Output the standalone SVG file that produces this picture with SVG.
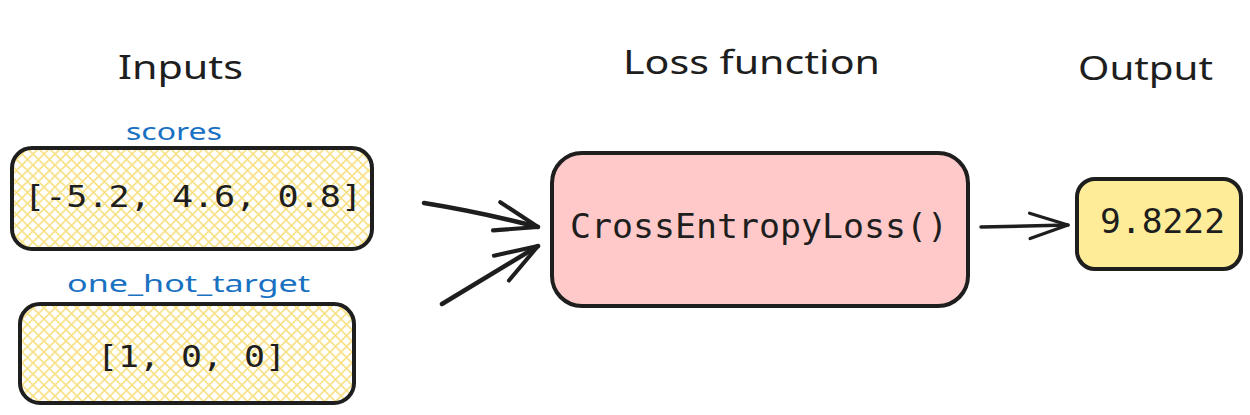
<svg xmlns="http://www.w3.org/2000/svg" width="1250" height="415" viewBox="0 0 1250 415">
  <defs>
    <pattern id="hatch" patternUnits="userSpaceOnUse" width="11" height="11">
      <path d="M-2,-2 L13,13 M13,-2 L-2,13" stroke="#f9e28c" stroke-width="1.8" fill="none"/>
    </pattern>
    <marker id="ah" markerUnits="userSpaceOnUse" markerWidth="60" markerHeight="40" viewBox="-52 -22 56 44" refX="0" refY="0" orient="auto" overflow="visible">
      <path d="M-47,-16 L0,0 L-47,16" fill="none" stroke="#1e1e1e" stroke-width="4.5" stroke-linecap="round" stroke-linejoin="round"/>
    </marker>
    <marker id="ahs" markerUnits="userSpaceOnUse" markerWidth="60" markerHeight="40" viewBox="-52 -22 56 44" refX="0" refY="0" orient="auto" overflow="visible">
      <path d="M-42,-14 L0,0 L-42,14" fill="none" stroke="#1e1e1e" stroke-width="3.5" stroke-linecap="round" stroke-linejoin="round"/>
    </marker>
  </defs>
  <style>
    .box { stroke: #1e1e1e; stroke-width: 4; }
    .title { font-family: "Noto Sans", "Lato", sans-serif; font-size: 33px; fill: #1e1e1e; text-anchor: start; }
    .label { font-family: "Noto Sans", "Lato", sans-serif; font-size: 24px; fill: #1971c2; }
    .mono { font-family: "DejaVu Sans Mono", "Liberation Mono", monospace; fill: #1e1e1e; }
    .conn { fill: none; stroke: #1e1e1e; stroke-linecap: round; }
  </style>
  <rect width="1250" height="415" fill="#ffffff"/>

  <g id="title-inputs"><text class="title" x="118" y="79" textLength="125" lengthAdjust="spacingAndGlyphs">Inputs</text></g>
  <g id="title-loss"><text class="title" x="623" y="74" textLength="257" lengthAdjust="spacingAndGlyphs">Loss function</text></g>
  <g id="title-output"><text class="title" x="1078" y="80" textLength="135" lengthAdjust="spacingAndGlyphs">Output</text></g>

  <g id="scores">
    <text class="label" x="126" y="140" textLength="96" lengthAdjust="spacingAndGlyphs">scores</text>
    <rect class="box" x="12" y="148" width="360" height="101" rx="20" fill="url(#hatch)"/>
    <text class="mono" x="24" y="207" font-size="30" textLength="338" lengthAdjust="spacingAndGlyphs">[-5.2, 4.6, 0.8]</text>
  </g>

  <g id="one-hot-target">
    <text class="label" x="67" y="292" textLength="243" lengthAdjust="spacingAndGlyphs">one_hot_target</text>
    <rect class="box" x="20" y="304" width="334" height="99" rx="20" fill="url(#hatch)"/>
    <text class="mono" x="97" y="367" font-size="30" textLength="189" lengthAdjust="spacingAndGlyphs">[1, 0, 0]</text>
  </g>

  <g id="loss">
    <rect class="box" x="552" y="153" width="416" height="153" rx="30" fill="#ffc9c9"/>
    <text class="mono" x="570" y="238" font-size="34" textLength="378" lengthAdjust="spacingAndGlyphs">CrossEntropyLoss()</text>
  </g>

  <g id="output">
    <rect class="box" x="1077" y="179" width="164" height="90" rx="18" fill="#ffec99"/>
    <text class="mono" x="1100" y="233" font-size="34" textLength="125" lengthAdjust="spacingAndGlyphs">9.8222</text>
  </g>

  <g id="connectors">
    <path class="conn" d="M424,203 Q480,212 538,227" stroke-width="4.5" marker-end="url(#ah)"/>
    <path class="conn" d="M442,304 L538,246" stroke-width="4.5" marker-end="url(#ah)"/>
    <path class="conn" d="M981,227 L1068,225" stroke-width="3.5" marker-end="url(#ahs)"/>
  </g>
</svg>
